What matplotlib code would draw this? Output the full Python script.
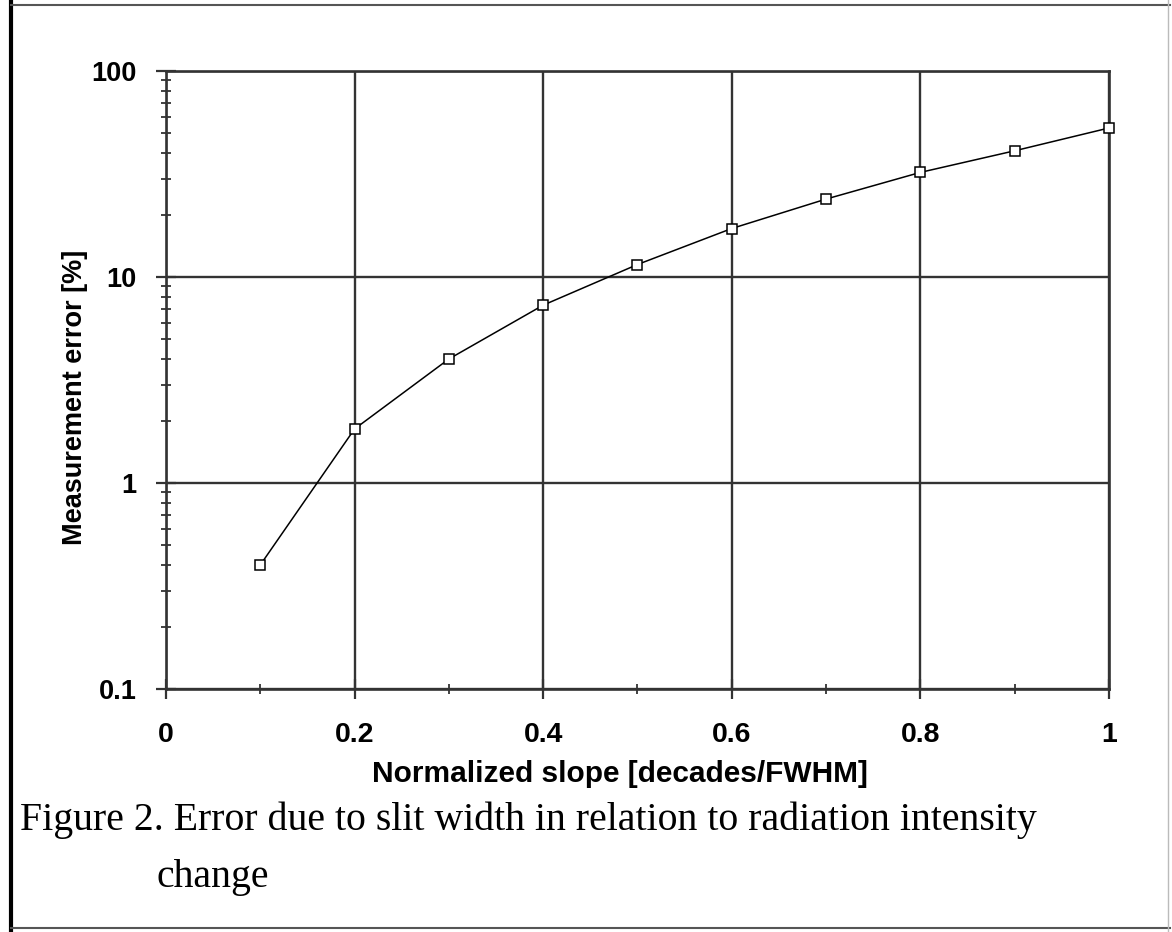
import numpy as np
import matplotlib.pyplot as plt
from matplotlib.lines import Line2D
from matplotlib.ticker import FixedLocator, LogLocator, NullFormatter

# Data
slope = [0.1, 0.2, 0.3, 0.4, 0.5, 0.6, 0.7, 0.8, 0.9, 1.0]
error_pct = [0.40, 1.83, 4.0, 7.3, 11.5, 17.2, 23.9, 32.2, 41.0, 52.9]

x_ticks = [0, 0.2, 0.4, 0.6, 0.8, 1]
x_tick_labels = ['0', '0.2', '0.4', '0.6', '0.8', '1']
y_ticks = [0.1, 1, 10, 100]
y_tick_labels = ['0.1', '1', '10', '100']

caption_1 = 'Figure 2. Error due to slit width in relation to radiation intensity'
caption_2 = 'change'

plt.rcParams['font.family'] = ['Liberation Sans', 'DejaVu Sans']

fig = plt.figure(figsize=(11.72, 9.32), dpi=100)
ax = fig.add_axes([0.1416, 0.2607, 0.8046, 0.6631])

ax.plot(slope, error_pct, color='black', lw=1.1, marker='s', markersize=6.5,
        markerfacecolor='white', markeredgecolor='black', markeredgewidth=1.1,
        zorder=5, clip_on=False)

ax.set_yscale('log')
ax.set_xlim(0, 1)
ax.set_ylim(0.1, 100)

ax.xaxis.set_major_locator(FixedLocator(x_ticks))
ax.set_xticklabels(x_tick_labels)
ax.xaxis.set_minor_locator(FixedLocator([0.1, 0.3, 0.5, 0.7, 0.9]))
ax.yaxis.set_major_locator(FixedLocator(y_ticks))
ax.set_yticklabels(y_tick_labels)
ax.yaxis.set_minor_locator(LogLocator(base=10, subs=np.arange(2, 10)))
ax.yaxis.set_minor_formatter(NullFormatter())

ax.grid(True, which='major', color='#333333', lw=1.7)
for sp in ax.spines.values():
    sp.set_color('#333333')
    sp.set_linewidth(1.9)

ax.tick_params(which='major', direction='inout', length=14, width=1.6,
               color='#333333', pad=14)
ax.tick_params(axis='y', which='major', labelsize=19.5)
ax.tick_params(axis='x', which='major', labelsize=20.5, pad=17)
ax.tick_params(which='minor', direction='inout', length=7, width=1.3,
               color='#333333')
for lbl in ax.get_xticklabels() + ax.get_yticklabels():
    lbl.set_fontweight('bold')

ax.set_xlabel('Normalized slope [decades/FWHM]', fontsize=21.5, fontweight='bold')
ax.xaxis.set_label_coords(0.481, -0.115)
ax.set_ylabel('Measurement error [%]', fontsize=19.5, fontweight='bold')
ax.yaxis.set_label_coords(-0.083, 0.472)

fig.text(20 / 1172, 1 - 820 / 932, caption_1, fontsize=28.6,
         family='Liberation Serif', va='center', ha='left')
fig.text(157 / 1172, 1 - 878 / 932, caption_2, fontsize=28.6,
         family='Liberation Serif', va='center', ha='left')

# page frame
fig.add_artist(Line2D([0.009, 0.009], [0, 1], transform=fig.transFigure,
                      color='black', lw=3))
fig.add_artist(Line2D([0.009, 0.998], [0.995, 0.995], transform=fig.transFigure,
                      color='#555555', lw=1.5))
fig.add_artist(Line2D([0.009, 0.998], [0.004, 0.004], transform=fig.transFigure,
                      color='#555555', lw=1.5))
fig.add_artist(Line2D([0.997, 0.997], [0, 1], transform=fig.transFigure,
                      color='#bbbbbb', lw=1.0))

fig.savefig('out.png', dpi=100)
